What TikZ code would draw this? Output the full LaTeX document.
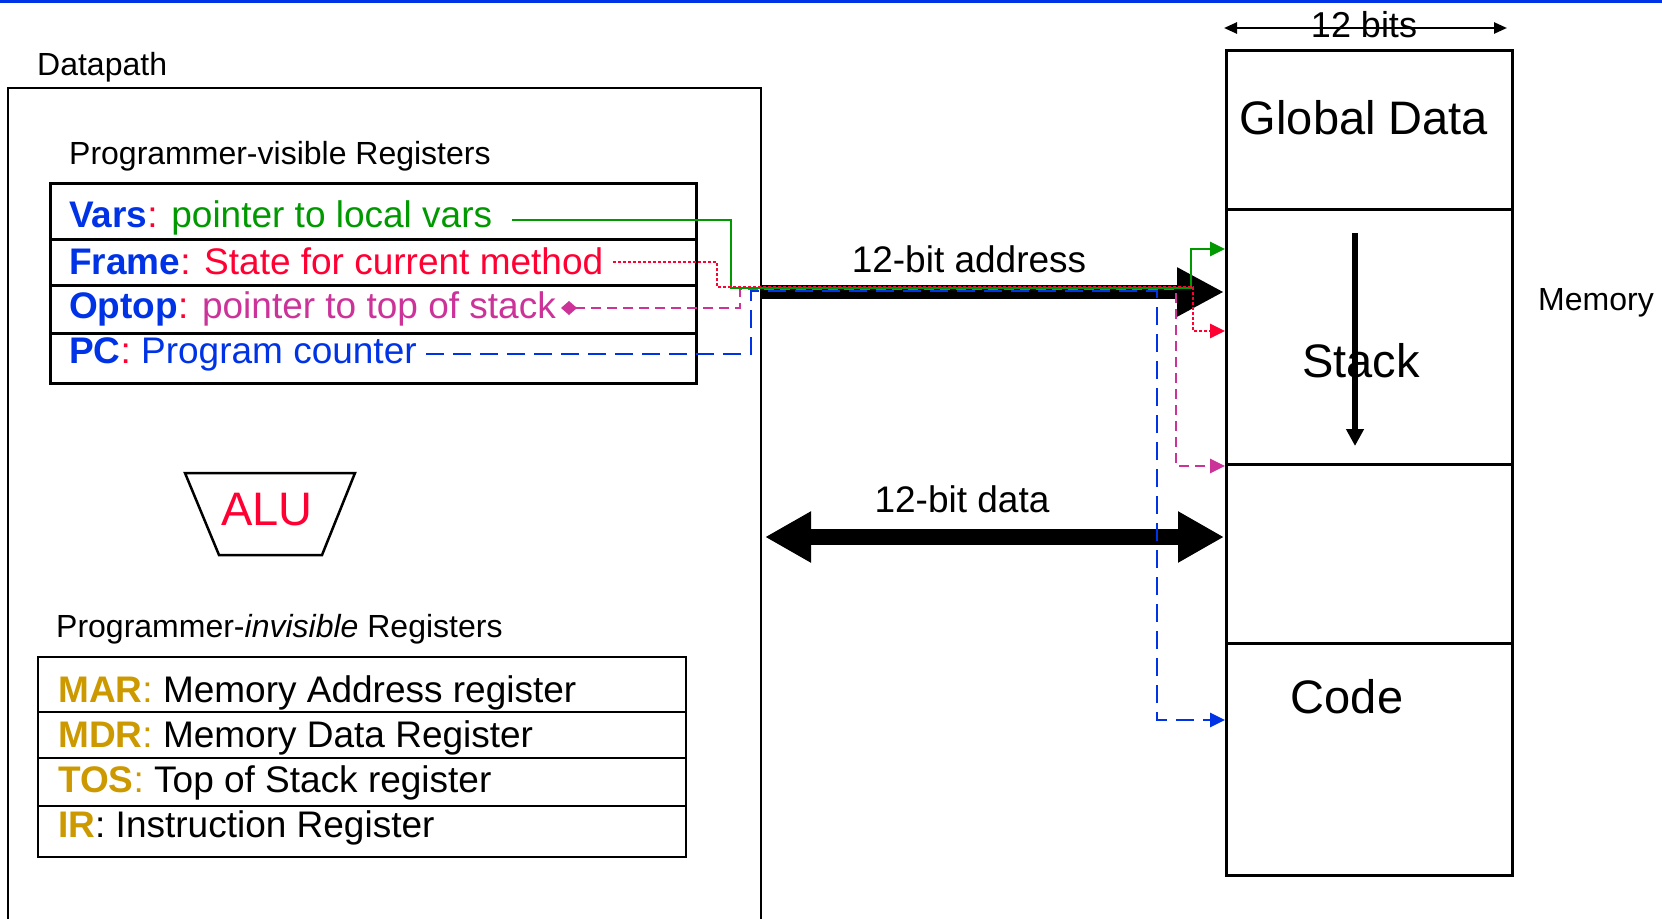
\documentclass[tikz,border=0pt]{standalone}
\usepackage{fontspec}
\setmainfont{Liberation Sans}
\usetikzlibrary{arrows.meta}
\definecolor{topblue}{RGB}{0,51,230}
\definecolor{regblue}{RGB}{0,51,230}
\definecolor{regred}{RGB}{255,0,51}
\definecolor{reggreen}{RGB}{0,153,0}
\definecolor{regmag}{RGB}{204,51,153}
\definecolor{regold}{RGB}{204,153,0}
\tikzset{
  lbl/.style={inner sep=0pt, anchor=base west, font=\fontsize{32}{38}\selectfont},
  reg/.style={inner sep=0pt, anchor=base west, font=\fontsize{37}{44}\selectfont},
  big/.style={inner sep=0pt, anchor=base, font=\fontsize{47}{56}\selectfont},
  bus/.style={inner sep=0pt, anchor=base, font=\fontsize{37}{44}\selectfont},
  box/.style={draw, line width=3pt},
  thinbox/.style={draw, line width=2.5pt},
  link/.style={line width=2.7pt, -{Triangle[length=15pt,width=14pt]}},
}
\begin{document}
\begin{tikzpicture}[x=1pt,y=-1pt]
\useasboundingbox (0,0) rectangle (1662,918);
\fill[topblue] (0,0) rectangle (1662,3);

% Datapath outline
\node[lbl] (dplabel) at (37,75) {Datapath};
\coordinate (dpbl) at (8,920);
\coordinate (dptl) at (8,88);
\coordinate (dptr) at (761,88);
\coordinate (dpbr) at (761,920);
\draw[line width=2pt] (dpbl) -- (dptl) -- (dptr) -- (dpbr);

% Programmer-visible registers
\node[lbl] (vislabel) at (69,164) {Programmer-visible Registers};
\draw[box] (50,183) rectangle (696,383);
\draw[box] (50,239) -- (696,239) (50,285) -- (696,285) (50,333) -- (696,333);
\node[reg] (vars) at (69,227) {\textcolor{regblue}{\bfseries Vars}\textcolor{regred}{:} \textcolor{reggreen}{pointer to local vars}};
\node[reg] (frame) at (69,274) {\textcolor{regblue}{\bfseries Frame}\textcolor{regred}{:} \textcolor{regred}{State for current method}};
\node[reg] (optop) at (69,318) {\textcolor{regblue}{\bfseries Optop}\textcolor{regred}{:} \textcolor{regmag}{pointer to top of stack}};
\node[reg] (pc) at (69,363) {\textcolor{regblue}{\bfseries PC}\textcolor{regred}{:} \textcolor{regblue}{Program counter}};

% ALU
\draw[line width=2.5pt] (185,473) -- (355,473) -- (322,555) -- (219,555) -- cycle;
\node[inner sep=0pt, anchor=base, font=\fontsize{47}{56}\selectfont, text=regred] (alu) at (267,525) {ALU};

% Programmer-invisible registers
\node[lbl] (invislabel) at (56,637) {Programmer-\textit{invisible} Registers};
\draw[thinbox] (38,657) rectangle (686,857);
\draw[thinbox] (38,712) -- (686,712) (38,758) -- (686,758) (38,806) -- (686,806);
\node[reg] (mar) at (58,702) {\textcolor{regold}{\bfseries MAR}\textcolor{regold}{:} Memory Address register};
\node[reg] (mdr) at (58,747) {\textcolor{regold}{\bfseries MDR}\textcolor{regold}{:} Memory Data Register};
\node[reg] (tos) at (58,792) {\textcolor{regold}{\bfseries TOS}\textcolor{regold}{:} Top of Stack register};
\node[reg] (ir) at (58,837) {\textcolor{regold}{\bfseries IR}: Instruction Register};

% Memory
\node[bus, font=\fontsize{36}{42}\selectfont] (bits) at (1364,37) {12 bits};
\coordinate (bitsl) at (1224,28);
\coordinate (bitsr) at (1507,28);
\draw[line width=2.5pt, {Triangle[length=13pt,width=11pt]}-{Triangle[length=13pt,width=11pt]}] (bitsl) -- (bitsr);
\draw[box] (1226,50) rectangle (1512,875);
\draw[box] (1226,209) -- (1512,209) (1226,464) -- (1512,464) (1226,643) -- (1512,643);
\node[big] (global) at (1364,134) {Global Data};
\node[big] (stack) at (1361,377) {Stack};
\node[big] (code) at (1347,713) {Code};
\node[lbl] (memory) at (1538,310) {Memory};
\coordinate (stacktop) at (1355,233);
\coordinate (stackbot) at (1355,446);
\draw[line width=6pt, -{Triangle[length=17pt,width=17pt]}] (stacktop) -- (stackbot);

% Buses
\coordinate (addrl) at (761,292);
\coordinate (addrr) at (1224,292);
\draw[line width=14pt, -{Triangle[length=47pt,width=46pt]}] (addrl) -- (addrr);
\node[bus] (addrlabel) at (969,272) {12-bit address};
\coordinate (datal) at (765,537);
\coordinate (datar) at (1224,537);
\draw[line width=16pt, {Triangle[length=46pt,width=48pt]}-{Triangle[length=46pt,width=48pt]}] (datal) -- (datar);
\node[bus] (datalabel) at (962,512) {12-bit data};

% Pointer connectors
\coordinate (pcout) at (426,354);
\coordinate (pcin) at (1225,720);
\draw[link, regblue, dash pattern=on 18pt off 9pt] (pcout) -| (751,291) -| (1157,720) -- (pcin);
\coordinate (opout) at (561,308);
\coordinate (opin) at (1225,466);
\draw[link, regmag, dash pattern=on 10pt off 6pt, {Diamond[length=16pt,width=14pt]}-{Triangle[length=15pt,width=14pt]}] (opout) -| (740,289) -| (1176,466) -- (opin);
\coordinate (varsout) at (512,220);
\coordinate (varsin) at (1225,249);
\draw[link, reggreen] (varsout) -| (731,288) -| (1191,249) -- (varsin);
\coordinate (frout) at (613,262);
\coordinate (frin) at (1225,331);
\draw[link, regred, dash pattern=on 2.5pt off 2.5pt] (frout) -| (717,287) -| (1193,331) -- (frin);
\end{tikzpicture}
\end{document}
